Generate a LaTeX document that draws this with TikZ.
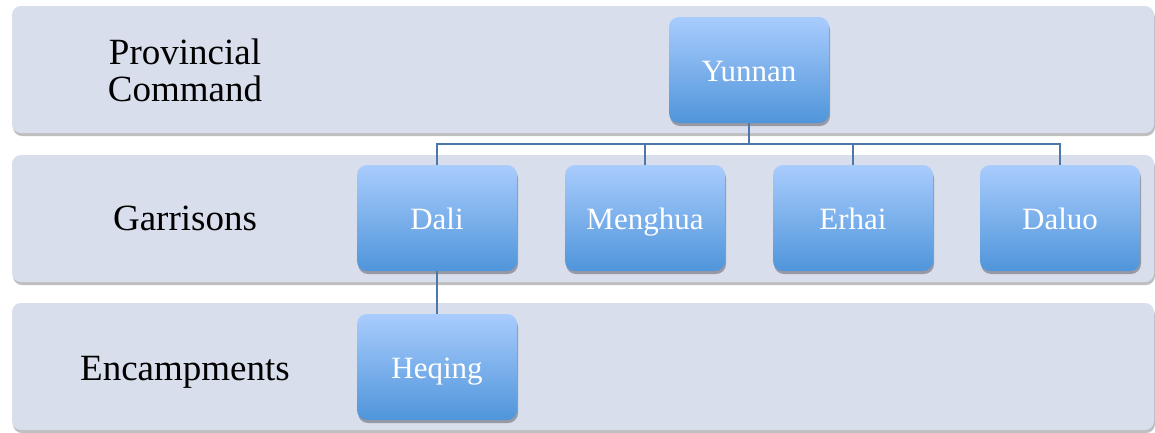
\documentclass[tikz,border=0pt]{standalone}
\usepackage{fontspec}
\setmainfont{Liberation Serif}
\usetikzlibrary{shadows}
\definecolor{bandfill}{HTML}{D9DEEC}
\definecolor{boxtop}{HTML}{A9CCFD}
\definecolor{boxbot}{HTML}{4F95DA}
\definecolor{linkcol}{HTML}{4B78A8}
\tikzset{
  band/.style={draw=none, fill=bandfill, rounded corners=9pt,
    drop shadow={shadow xshift=1pt, shadow yshift=-3pt, fill=black, opacity=0.25}},
  lvl/.style={font=\fontsize{37}{37}\selectfont, align=center, text=black},
  unit/.style={draw=none, rounded corners=10pt, top color=boxtop, bottom color=boxbot,
    minimum width=160pt, minimum height=106pt, text=white,
    text height=22pt, text depth=0pt,
    font=\fontsize{31}{31}\selectfont,
    drop shadow={shadow xshift=1pt, shadow yshift=-3pt, fill=black, opacity=0.3}},
  link/.style={draw=linkcol, line width=1.5pt}
}
\begin{document}
\begin{tikzpicture}[x=1pt,y=-1pt]
\useasboundingbox (0,0) rectangle (1155,432);
\fill[white] (0,0) rectangle (1155,432);
\begin{scope}
\clip (0,0) rectangle (1155,432);
\path[band] (12,6) rectangle (1154,133);
\path[band] (12,155) rectangle (1154,282);
\path[band] (12,303) rectangle (1154,430);
\end{scope}
\node[lvl] (lp) at (185,70) {Provincial\\Command};
\node[lvl, text height=26pt, text depth=0pt] (lg) at (185,217) {Garrisons};
\node[lvl, text height=26pt, text depth=0pt] (le) at (185,367) {Encampments};
\node[unit] (yn) at (749,70) {Yunnan};
\node[unit] (dl) at (437,218) {Dali};
\node[unit] (mh) at (645,218) {Menghua};
\node[unit] (eh) at (853,218) {Erhai};
\node[unit] (dlo) at (1060,218) {Daluo};
\node[unit] (hq) at (437,367) {Heqing};
\coordinate (bus) at (0,144);
\draw[link] (yn.south) -- (yn.south |- bus);
\draw[link] (dl.north) -- (dl.north |- bus) -- (dlo.north |- bus) -- (dlo.north);
\draw[link] (mh.north) -- (mh.north |- bus);
\draw[link] (eh.north) -- (eh.north |- bus);
\draw[link] (dl.south) -- (hq.north);
\end{tikzpicture}
\end{document}
